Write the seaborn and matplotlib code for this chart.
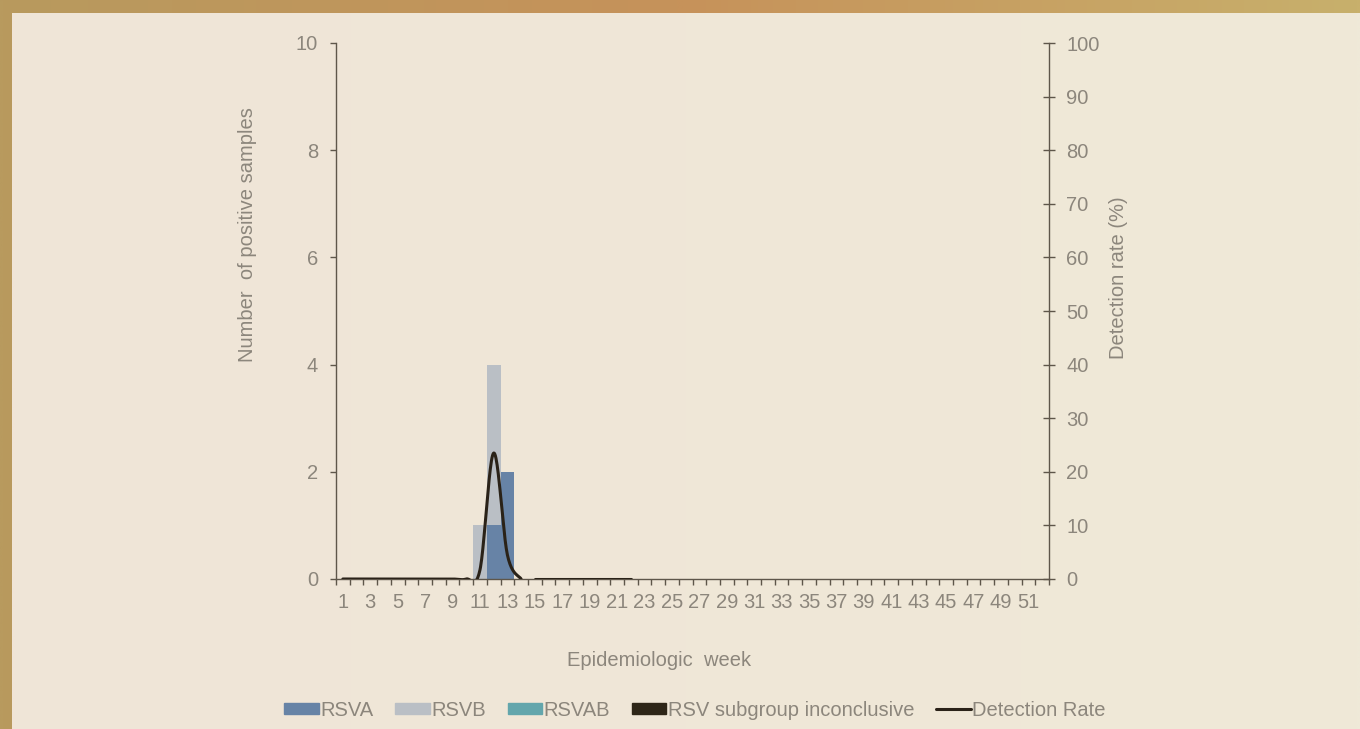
import numpy as np
import pandas as pd
import matplotlib.pyplot as plt
from matplotlib.patches import Patch
from matplotlib.lines import Line2D
import seaborn as sns

# datos por semana epidemiologica (1-52)
weeks = list(range(1, 53))
rsva = [0, 0, 0, 0, 0, 0, 0, 0, 0, 0, 0, 1, 2,
        0, 0, 0, 0, 0, 0, 0, 0, 0, 0, 0, 0, 0,
        0, 0, 0, 0, 0, 0, 0, 0, 0, 0, 0, 0, 0,
        0, 0, 0, 0, 0, 0, 0, 0, 0, 0, 0, 0, 0]
rsvb = [0, 0, 0, 0, 0, 0, 0, 0, 0, 0, 1, 3, 0,
        0, 0, 0, 0, 0, 0, 0, 0, 0, 0, 0, 0, 0,
        0, 0, 0, 0, 0, 0, 0, 0, 0, 0, 0, 0, 0,
        0, 0, 0, 0, 0, 0, 0, 0, 0, 0, 0, 0, 0]
rsvab = [0, 0, 0, 0, 0, 0, 0, 0, 0, 0, 0, 0, 0,
         0, 0, 0, 0, 0, 0, 0, 0, 0, 0, 0, 0, 0,
         0, 0, 0, 0, 0, 0, 0, 0, 0, 0, 0, 0, 0,
         0, 0, 0, 0, 0, 0, 0, 0, 0, 0, 0, 0, 0]
inconclusive = [0, 0, 0, 0, 0, 0, 0, 0, 0, 0, 0, 0, 0,
                0, 0, 0, 0, 0, 0, 0, 0, 0, 0, 0, 0, 0,
                0, 0, 0, 0, 0, 0, 0, 0, 0, 0, 0, 0, 0,
                0, 0, 0, 0, 0, 0, 0, 0, 0, 0, 0, 0, 0]
# tasa de deteccion (%), solo semanas 1-22 reportadas
detection_rate = [0, 0, 0, 0, 0, 0, 0, 0, 0, 0, 1.7, 23.5, 4.5,
                  0, 0, 0, 0, 0, 0, 0, 0, 0, None, None, None, None,
                  None, None, None, None, None, None, None, None, None, None, None, None, None,
                  None, None, None, None, None, None, None, None, None, None, None, None, None]
rate_break_after = [14]

C_A, C_B, C_AB, C_INC = "#6783A6", "#BABFC5", "#63A6AC", "#2E2618"
C_LINE = "#2A2218"
C_TEXT = "#8C867C"
C_AXIS = "#5E564A"
FS = 14.5

sns.set_style("ticks")
plt.rcParams['font.family'] = ['Liberation Sans', 'DejaVu Sans']
plt.rcParams['font.size'] = FS

fig = plt.figure(figsize=(13.6, 7.29), dpi=100)


def gradient(left, right, h=2, w=200):
    t = np.linspace(0, 1, w)[None, :, None]
    row = np.array(left)[None, None, :] * (1 - t) + np.array(right)[None, None, :] * t
    return np.repeat(row, h, axis=0) / 255


# fondo: marco dorado + panel beige
bg = fig.add_axes([0, 0, 1, 1], zorder=-5)
bg.axis("off")
frame = np.concatenate([gradient([184, 154, 94], [198, 146, 90], w=100),
                        gradient([198, 146, 90], [200, 176, 108], w=100)], axis=1)
bg.imshow(frame, extent=[0, 1, 0, 1], aspect="auto", interpolation="bilinear")
bg.imshow(gradient([240, 229, 215], [239, 233, 216]), extent=[12 / 1360, 1, 0, 1 - 13 / 729],
          aspect="auto", interpolation="bilinear")
bg.set_xlim(0, 1)
bg.set_ylim(0, 1)

ax = fig.add_axes([336 / 1360, 1 - 579 / 729, 713 / 1360, 536 / 729])
ax.set_facecolor("none")

df = pd.DataFrame({"week": [str(w) for w in weeks], "RSVA": rsva, "RSVB": rsvb,
                   "RSVAB": rsvab, "INC": inconclusive})
cum = df[["RSVA", "RSVB", "RSVAB", "INC"]].cumsum(axis=1)
order = df["week"].tolist()
for col, c in [("INC", C_INC), ("RSVAB", C_AB), ("RSVB", C_B), ("RSVA", C_A)]:
    sns.barplot(x=df["week"], y=cum[col], order=order, color=c, saturation=1,
                width=1.0, linewidth=0, ax=ax)

ax.set_xlim(-0.5, 51.5)
ax.set_ylim(0, 10)
ax.set_yticks(range(0, 11, 2))
ax.set_xticks(np.arange(-0.5, 52, 1))
ax.set_xticklabels([])
ax.set_xticks(range(52), minor=True)
ax.set_xticklabels([str(w) if w % 2 == 1 else "" for w in weeks], minor=True)
ax.tick_params(axis="x", which="major", direction="out", length=4.5, width=1, color=C_AXIS)
ax.tick_params(axis="x", which="minor", length=0, pad=10, labelcolor=C_TEXT, labelsize=FS)
ax.tick_params(axis="y", direction="out", length=4, width=1, color=C_AXIS, pad=9,
               labelcolor=C_TEXT, labelsize=FS)
ax.set_xlabel("")
ax.set_ylabel("Number  of positive samples", color=C_TEXT, fontsize=FS)
ax.yaxis.set_label_coords(-0.111, 0.642)
for s in ["top", "right"]:
    ax.spines[s].set_visible(False)
for s in ["left", "bottom"]:
    ax.spines[s].set_color(C_AXIS)
    ax.spines[s].set_linewidth(1)


def smooth(xs, ys, n=24):
    # curva suavizada tipo Excel (Catmull-Rom)
    px, py = [], []
    m = len(xs)
    for i in range(m - 1):
        i0, i3 = max(i - 1, 0), min(i + 2, m - 1)
        p0, p1, p2, p3 = [np.array([xs[k], ys[k]], float) for k in (i0, i, i + 1, i3)]
        for t in np.linspace(0, 1, n, endpoint=(i == m - 2)):
            pt = 0.5 * ((2 * p1) + (-p0 + p2) * t + (2 * p0 - 5 * p1 + 4 * p2 - p3) * t ** 2
                        + (-p0 + 3 * p1 - 3 * p2 + p3) * t ** 3)
            px.append(pt[0])
            py.append(pt[1])
    return px, py


ax2 = ax.twinx()
segs, cur = [], []
for w, r in zip(weeks, detection_rate):
    if r is None:
        if cur:
            segs.append(cur)
        cur = []
        continue
    cur.append((w - 1, r))
    if w in rate_break_after:
        segs.append(cur)
        cur = []
if cur:
    segs.append(cur)
for seg in segs:
    sx, sy = smooth([p[0] for p in seg], [p[1] for p in seg])
    sns.lineplot(x=sx, y=sy, sort=False, estimator=None, color=C_LINE, linewidth=2.2,
                 ax=ax2, legend=False)

ax2.set_ylim(0, 100)
ax2.set_yticks(range(0, 101, 10))
ax2.tick_params(axis="y", direction="inout", length=8.5, width=1, color=C_AXIS, pad=8,
                labelcolor=C_TEXT, labelsize=FS)
ax2.set_ylabel("Detection rate (%)", color=C_TEXT, fontsize=FS)
ax2.yaxis.set_label_coords(1.0842, 0.5616)
for s in ["top", "left", "bottom"]:
    ax2.spines[s].set_visible(False)
ax2.spines["right"].set_color(C_AXIS)
ax2.spines["right"].set_linewidth(1)
ax2.set_xlim(-0.5, 51.5)

fig.text(659 / 1360, 1 - 660 / 729, "Epidemiologic  week", color=C_TEXT, fontsize=FS,
         ha="center", va="center")

handles = [Patch(color=C_A, label="RSVA"), Patch(color=C_B, label="RSVB"),
           Patch(color=C_AB, label="RSVAB"), Patch(color=C_INC, label="RSV subgroup inconclusive"),
           Line2D([], [], color=C_LINE, linewidth=2.2, label="Detection Rate")]
fig.legend(handles=handles, loc="center", bbox_to_anchor=(695 / 1360, 1 - 710 / 729), ncol=5,
           frameon=False, fontsize=FS, labelcolor=C_TEXT, handlelength=1.7, handleheight=0.5,
           handletextpad=0.07, columnspacing=1.1, borderaxespad=0)

fig.savefig("out.png", dpi=100)
